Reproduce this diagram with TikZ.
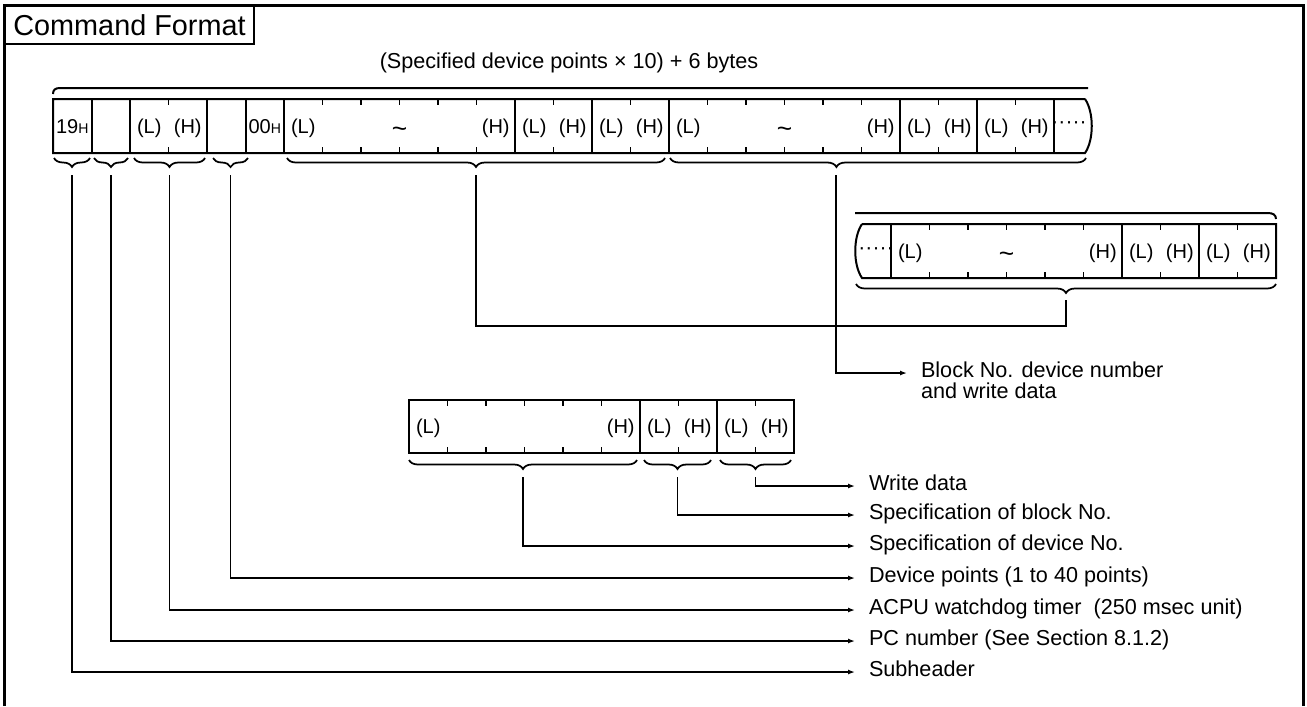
\documentclass[tikz,border=0pt]{standalone}
\usepackage{fontspec}
\setmainfont{Liberation Sans}
\setsansfont{Liberation Sans}
\usepackage{tikz}
\usetikzlibrary{arrows.meta,decorations.pathreplacing,calc}
\tikzset{
  >={Latex[length=1.4mm,width=1mm]},
  every picture/.append style={font=\sffamily},
  frame/.style={draw,line width=0.6mm},
  field/.style={draw,line width=0.4mm},
  tick/.style={line width=0.35mm},
  lh/.style={anchor=base,inner sep=0pt,font=\fontsize{11.4}{13}\selectfont},
  wave/.style={anchor=base,inner sep=0pt,font=\fontsize{15}{16}\selectfont},
  dotfill/.style={inner sep=0pt,font=\fontsize{12}{13}\selectfont},
  note/.style={anchor=west,inner xsep=2.8mm,inner ysep=0.4mm,outer sep=0pt,
               text height=2.6mm,text depth=0.8mm,font=\fontsize{12.3}{14}\selectfont},
  grp/.style={decorate,decoration={brace,mirror,amplitude=1.8mm},line width=0.35mm},
  lead/.style={->,line width=0.35mm},
}

\begin{document}
\begin{tikzpicture}[x=0.2mm,y=-0.2mm]
  \useasboundingbox (0,0) rectangle (1307,706);
  \draw[frame] (4,706) -- (4,5) -- (1303,5) -- (1303,706);
  \node[draw,line width=0.4mm,anchor=north west,minimum width=49.8mm,minimum height=7.6mm,
        inner sep=0pt,font=\fontsize{16.4}{18}\selectfont] (title) at (4,5) {Command Format};

  \node[font=\fontsize{12.3}{14}\selectfont] (total) at (569,63) {(Specified device points × 10) + 6 bytes};

  \draw[field] (53,94) .. controls (53,90) and (55,88) .. (60,88) -- (1088,88);
  \draw[field] (1085,99) -- (53,99) -- (53,153) -- (1085,153) .. controls (1094,140) and (1094,112) .. (1085,99);
  \foreach \k in {1,2,4,5,6,12,14,16,22,24,26}
    \draw[field] ({53+38.5*\k},99) -- ({53+38.5*\k},153);
  \foreach \k in {3,7,8,9,10,11,13,15,17,18,19,20,21,23,25}
    \draw[tick] ({53+38.5*\k},99) -- ++(0,6) ({53+38.5*\k},153) -- ++(0,-6);
  \node[lh] (sub) at (72.25,133) {19{\fontsize{8}{9}\selectfont H}};
  \node[lh] (cmdc) at (264.75,133) {00{\fontsize{8}{9}\selectfont H}};
  \foreach \k/\t in {2/L,3/H,6/L,11/H,12/L,13/H,14/L,15/H,16/L,21/H,22/L,23/H,24/L,25/H}
    \node[lh] (u\k) at ({53+38.5*(\k+0.5)},133) {(\t)};
  \node[wave] (tilA) at (399.5,137) {\textasciitilde};
  \node[wave] (tilB) at (784.5,137) {\textasciitilde};
  \node[dotfill] (dotsA) at (1069,125) {·····};

  \draw[field] (855,213) -- (1268,213) .. controls (1273,213) and (1276,215) .. (1276,219);
  \draw[field] (862,224) -- (1276,224) -- (1276,278) -- (862,278) .. controls (853,265) and (853,237) .. (862,224);
  \foreach \x in {891,1122,1199}
    \draw[field] (\x,224) -- (\x,278);
  \foreach \k in {1,2,3,4,5,7,9}
    \draw[tick] ({891+38.5*\k},224) -- ++(0,6) ({891+38.5*\k},278) -- ++(0,-6);
  \foreach \k/\t in {0/L,5/H,6/L,7/H,8/L,9/H}
    \node[lh] (v\k) at ({891+38.5*(\k+0.5)},258) {(\t)};
  \node[wave] (tilC) at (1006.5,262) {\textasciitilde};
  \node[dotfill] (dotsB) at (876,251) {·····};

  \draw[field] (409,400) rectangle (794,453);
  \foreach \x in {640,717}
    \draw[field] (\x,400) -- (\x,453);
  \foreach \k in {1,2,3,4,5,7,9}
    \draw[tick] ({409+38.5*\k},400) -- ++(0,6) ({409+38.5*\k},453) -- ++(0,-6);
  \foreach \k/\t in {0/L,5/H,6/L,7/H,8/L,9/H}
    \node[lh] (w\k) at ({409+38.5*(\k+0.5)},433) {(\t)};

  \draw[grp] (54,158) -- (90,158);
  \draw[grp] (94,158) -- (128,158);
  \draw[grp] (134,158) -- (205,158);
  \draw[grp] (213,158) -- (248,158);
  \draw[grp] (287,158) -- (665,158);
  \draw[grp,decoration={aspect=0.4}] (670,158) -- (1086,158);
  \draw[grp] (856,284) -- (1276,284);
  \draw[grp] (409,460) -- (637,460);
  \draw[grp] (644,460) -- (711,460);
  \draw[grp] (720,460) -- (791,460);

  \coordinate (tSub) at (72,175);
  \coordinate (tPc) at (111,175);
  \coordinate (tWdt) at (169.5,175);
  \coordinate (tPts) at (230.5,175);
  \coordinate (tDev1) at (476,175);
  \coordinate (tDev2) at (836,175);
  \coordinate (tDev3) at (1066,300);
  \coordinate (jn) at (836,326);
  \coordinate (tDno) at (523,477);
  \coordinate (tBno) at (677.5,477);
  \coordinate (tWd) at (755.5,477);

  \node[note] (lBlk) at (907,373) {Block No. device number};
  \node[note,anchor=north west] (lBlk2) at (lBlk.south west) {and write data};
  \node[note] (lWd) at (855,486) {Write data};
  \node[note] (lBno) at (855,515) {Specification of block No.};
  \node[note] (lDno) at (855,546) {Specification of device No.};
  \node[note] (lPts) at (855,578) {Device points (1 to 40 points)};
  \node[note] (lWdt) at (855,610) {ACPU watchdog timer\ \ (250 msec unit)};
  \node[note] (lPc) at (855,641) {PC number (See Section 8.1.2)};
  \node[note] (lSub) at (855,672) {Subheader};

  \draw[line width=0.35mm] (tDev1) |- (jn);
  \draw[line width=0.35mm] (tDev3) |- (jn);
  \draw[lead] (tDev2) |- (lBlk);
  \draw[lead] (tWd) |- (lWd);
  \draw[lead] (tBno) |- (lBno);
  \draw[lead] (tDno) |- (lDno);
  \draw[lead] (tPts) |- (lPts);
  \draw[lead] (tWdt) |- (lWdt);
  \draw[lead] (tPc) |- (lPc);
  \draw[lead] (tSub) |- (lSub);
\end{tikzpicture}
\end{document}
